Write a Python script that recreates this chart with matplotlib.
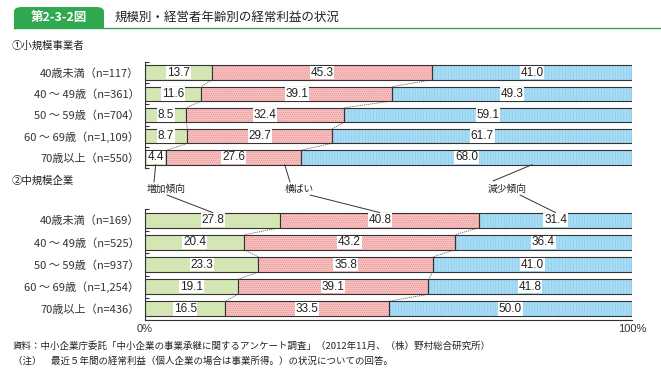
import matplotlib
matplotlib.use("Agg")
import matplotlib.pyplot as plt
import numpy as np
from matplotlib.patches import FancyBboxPatch, Rectangle
from matplotlib.lines import Line2D

plt.rcParams['font.family'] = ['Noto Sans CJK JP', 'DejaVu Sans']
plt.rcParams['hatch.linewidth'] = 0.4

# data
small_labels = ["40歳未満（n=117）", "40 ～ 49歳（n=361）", "50 ～ 59歳（n=704）",
                "60 ～ 69歳（n=1,109）", "70歳以上（n=550）"]
small_inc = [13.7, 11.6, 8.5, 8.7, 4.4]
small_flat = [45.3, 39.1, 32.4, 29.7, 27.6]
small_dec = [41.0, 49.3, 59.1, 61.7, 68.0]

mid_labels = ["40歳未満（n=169）", "40 ～ 49歳（n=525）", "50 ～ 59歳（n=937）",
              "60 ～ 69歳（n=1,254）", "70歳以上（n=436）"]
mid_inc = [27.8, 20.4, 23.3, 19.1, 16.5]
mid_flat = [40.8, 43.2, 35.8, 39.1, 33.5]
mid_dec = [31.4, 36.4, 41.0, 41.8, 50.0]

series_names = ["増加傾向", "横ばい", "減少傾向"]

GREEN = '#d3e6b4'
PINK = '#f8c0c0'
PINK_DOT = '#e48888'
BLUE = '#a8dcf4'
BLUE_LINE = '#86cbec'
DARK = '#333333'
HDR = '#2fa84f'
H = 0.68

W, Hpx = 661, 382
fig = plt.figure(figsize=(W / 100, Hpx / 100), dpi=100)


def fx(x):
    return x / W


def fy(y):
    return 1 - y / Hpx


def draw_panel(ax, labels, inc, flat, dec):
    inc = np.array(inc)
    flat = np.array(flat)
    dec = np.array(dec)
    y = np.arange(len(labels))
    ax.barh(y, inc, H, color=GREEN, edgecolor=DARK, lw=0.8, zorder=2)
    ax.barh(y, flat, H, left=inc, color=PINK, hatch='........', edgecolor=PINK_DOT, lw=0, zorder=2)
    ax.barh(y, flat, H, left=inc, fill=False, edgecolor=DARK, lw=0.8, zorder=3)
    ax.barh(y, dec, H, left=inc + flat, color=BLUE, hatch='||||||', edgecolor=BLUE_LINE, lw=0, zorder=2)
    ax.barh(y, dec, H, left=inc + flat, fill=False, edgecolor=DARK, lw=0.8, zorder=3)

    for i in range(len(labels)):
        for left, v in [(0, inc[i]), (inc[i], flat[i]), (inc[i] + flat[i], dec[i])]:
            ax.text(left + v / 2, i, f"{v:.1f}", ha='center', va='center', fontsize=8.5,
                    family='Liberation Sans', color='#222222', zorder=5,
                    bbox=dict(facecolor='white', edgecolor='none', pad=0.5))

    # dotted series lines between bars
    b1 = inc
    b2 = inc + flat
    for i in range(len(labels) - 1):
        for b in (b1, b2):
            ax.plot([b[i], b[i + 1]], [i + H / 2, i + 1 - H / 2], color='#666666',
                    lw=0.6, linestyle=(0, (1.5, 1)), zorder=1)

    ax.set_xlim(0, 100)
    ax.set_ylim(len(labels) - 0.5, -0.5)
    ax.set_yticks(y)
    ax.set_yticklabels(labels, fontsize=8, color='#333333')
    ax.tick_params(axis='y', length=0, pad=4)
    ax.set_yticks(np.arange(-0.5, len(labels), 1), minor=True)
    ax.tick_params(axis='y', which='minor', direction='in', length=3, width=0.8, color=DARK)
    for s in ['top', 'right']:
        ax.spines[s].set_visible(False)
    ax.spines['left'].set_color(DARK)
    ax.spines['left'].set_linewidth(0.8)


ax1 = fig.add_axes([fx(145), fy(168), fx(632) - fx(145), (168 - 62) / Hpx])
draw_panel(ax1, small_labels, small_inc, small_flat, small_dec)
ax1.spines['bottom'].set_visible(False)
ax1.set_xticks([])

ax2 = fig.add_axes([fx(145), fy(320), fx(632) - fx(145), (320 - 209) / Hpx])
draw_panel(ax2, mid_labels, mid_inc, mid_flat, mid_dec)
ax2.spines['bottom'].set_color(DARK)
ax2.spines['bottom'].set_linewidth(0.8)
ax2.set_xticks([0, 100])
ax2.set_xticklabels(["0%", "100%"], fontsize=8, family='Liberation Sans', color='#333333')
ax2.tick_params(axis='x', length=0, pad=3)

# header
fig.patches.append(FancyBboxPatch((fx(14), fy(28)), fx(104) - fx(14), (28 - 7) / Hpx,
                                  boxstyle='round,pad=0,rounding_size=0.012',
                                  transform=fig.transFigure, facecolor=HDR, edgecolor='none'))
fig.patches.append(Rectangle((fx(14), fy(28)), fx(104) - fx(14), 8 / Hpx,
                             transform=fig.transFigure, facecolor=HDR, edgecolor='none'))
fig.lines.append(Line2D([fx(14), 1], [fy(28), fy(28)], transform=fig.transFigure,
                        color=HDR, lw=1.0))
fig.text(fx(59), fy(17), "第2-3-2図", ha='center', va='center', fontsize=9,
         color='white', fontweight='bold')
fig.text(fx(115), fy(17), "規模別・経営者年齢別の経常利益の状況", ha='left', va='center',
         fontsize=9, color='#222222')

fig.text(fx(12), fy(46), "①小規模事業者", ha='left', va='center', fontsize=7.5, color='#222222')
fig.text(fx(12), fy(181), "②中規模企業", ha='left', va='center', fontsize=7.5, color='#222222')

# series annotations
text_pos = [(147, 189), (285, 189), (488, 189)]
top_targets = [small_inc[4] / 2,
               small_inc[4] + small_flat[4] * 0.88,
               small_inc[0] + small_flat[0] + small_dec[0] / 2]
top_starts = [(154, 182), (290, 182), (493, 181)]
bot_targets = [mid_inc[0] / 2,
               mid_inc[0] + mid_flat[0] / 2,
               mid_inc[0] + mid_flat[0] + mid_dec[0] / 2]
bot_starts = [(167, 195), (310, 195), (520, 195)]
for k, name in enumerate(series_names):
    fig.text(fx(text_pos[k][0]), fy(text_pos[k][1]), name, ha='left', va='center',
             fontsize=7, color='#222222')
    ax1.annotate("", xy=(top_targets[k], 4 + H / 2), xycoords='data',
                 xytext=(top_starts[k][0], Hpx - top_starts[k][1]), textcoords='figure pixels',
                 arrowprops=dict(arrowstyle='-', color=DARK, lw=0.7,
                                 shrinkA=0, shrinkB=0), annotation_clip=False)
    ax2.annotate("", xy=(bot_targets[k], -H / 2), xycoords='data',
                 xytext=(bot_starts[k][0], Hpx - bot_starts[k][1]), textcoords='figure pixels',
                 arrowprops=dict(arrowstyle='-', color=DARK, lw=0.7,
                                 shrinkA=0, shrinkB=0), annotation_clip=False)

fig.text(fx(13), fy(346), "資料：中小企業庁委託「中小企業の事業承継に関するアンケート調査」（2012年11月、（株）野村総合研究所）",
         ha='left', va='center', fontsize=6.8, color='#222222')
fig.text(fx(13), fy(361), "（注）　最近５年間の経常利益（個人企業の場合は事業所得。）の状況についての回答。",
         ha='left', va='center', fontsize=6.8, color='#222222')

fig.savefig("out.png", dpi=100)
